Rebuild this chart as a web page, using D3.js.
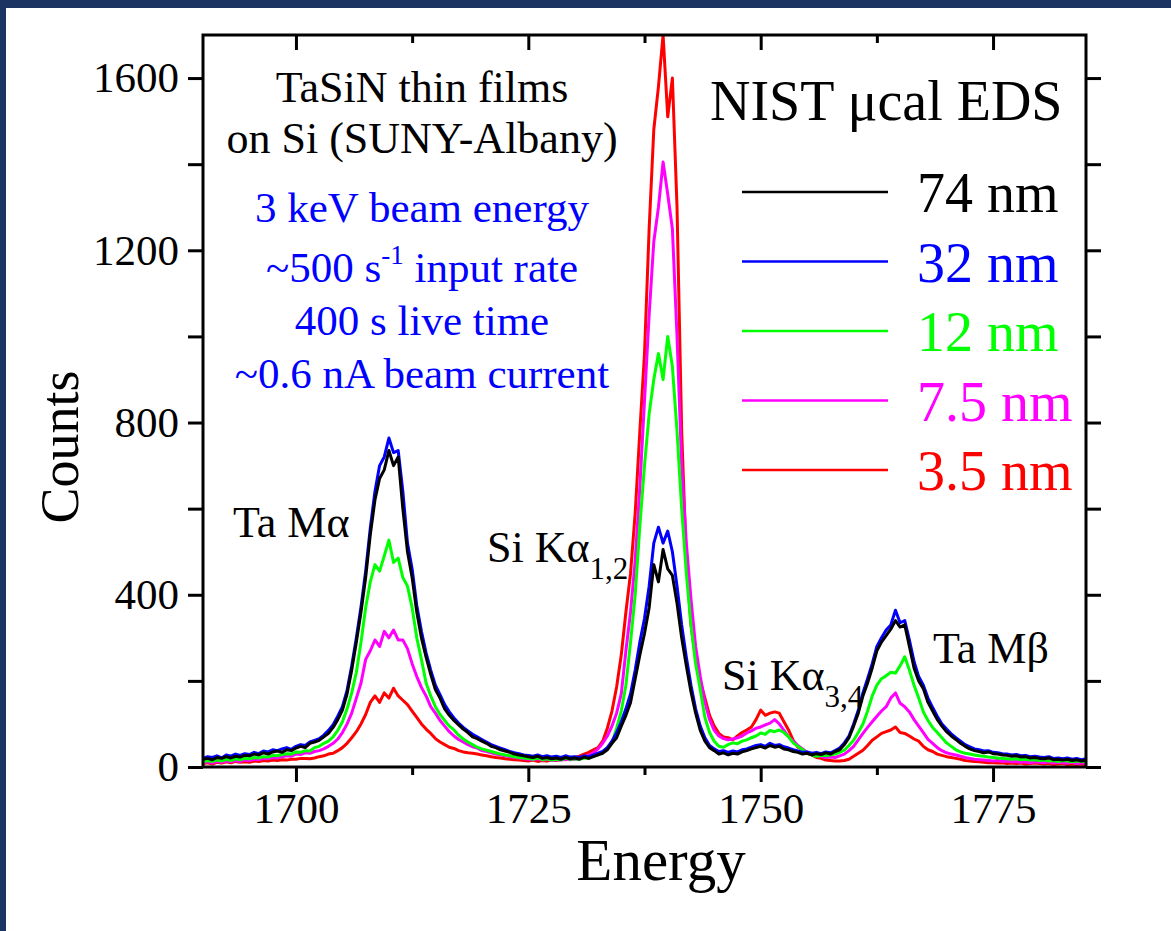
<!DOCTYPE html>
<html>
<head>
<meta charset="utf-8">
<script src="https://cdn.jsdelivr.net/npm/d3@7"></script>
<style>
  html, body { margin: 0; padding: 0; background: #fff; }
  svg { display: block; }
</style>
</head>
<body>
<script>
// channel energies, 0.5 step from 1690 to 1785
var energy = d3.range(1690, 1785.25, 0.5);

// counts per channel (rows of 10 = 5 energy units)
var nm74 = [
  18,20,17,22,20,24,21,25,23,27,
  26,30,28,33,30,35,37,34,40,38,
  44,48,45,55,58,62,70,78,92,110,
  132,170,225,290,360,440,540,620,670,690,
  735,700,720,600,500,440,360,300,255,215,
  180,160,135,120,108,98,88,80,70,66,
  60,55,48,45,40,37,34,30,28,26,
  24,22,25,20,22,19,21,18,22,19,
  21,18,23,20,24,28,32,40,55,68,
  95,120,150,205,260,310,370,470,430,505,
  460,445,380,300,235,175,125,85,60,45,
  38,30,33,28,32,30,35,38,42,45,
  48,44,50,46,48,42,40,36,34,30,
  32,28,31,29,33,30,36,40,52,68,
  95,125,165,195,230,270,290,305,320,340,
  325,330,280,230,200,182,150,130,110,95,
  82,72,64,55,48,42,38,36,33,35,
  31,30,28,27,25,26,23,24,21,22,
  20,19,21,17,18,16,18,15,17,14,
  16];

var nm32 = [
  20,24,22,26,21,28,25,30,27,31,
  29,34,31,37,35,40,38,42,45,41,
  48,52,50,58,62,66,74,85,98,118,
  140,178,235,300,372,455,555,640,700,720,
  764,730,735,640,520,460,375,315,265,225,
  190,168,145,128,114,102,92,84,76,70,
  64,58,52,48,44,40,36,33,31,28,
  27,25,28,24,26,23,25,22,26,23,
  24,22,26,24,28,32,36,45,60,80,
  105,135,170,225,290,345,420,520,557,520,
  548,500,420,330,255,190,135,95,68,50,
  42,36,38,34,37,35,40,42,46,50,
  52,48,55,50,52,47,44,40,37,34,
  35,32,34,31,35,33,38,44,56,72,
  100,132,172,205,240,280,300,318,330,364,
  335,340,295,245,210,190,160,138,118,100,
  88,77,68,60,52,47,42,40,37,38,
  34,33,31,30,28,29,26,27,24,25,
  23,22,24,20,21,19,21,18,20,17,
  19];

var nm12 = [
  12,15,13,16,14,18,15,19,17,20,
  19,22,21,24,23,27,26,29,31,30,
  35,34,38,37,45,48,55,60,70,85,
  105,135,172,220,290,370,430,470,455,490,
  527,475,485,440,420,370,300,250,195,165,
  140,122,108,95,86,74,65,58,52,46,
  42,39,36,33,30,28,26,24,22,21,
  20,18,21,17,19,16,18,17,20,18,
  19,18,21,20,25,28,34,45,56,90,
  130,190,290,400,560,700,820,900,960,900,
  1000,930,780,600,450,330,240,180,115,80,
  60,48,46,52,56,54,60,63,68,72,
  79,76,85,82,86,80,70,56,48,40,
  32,28,25,27,26,28,30,34,39,50,
  62,80,100,130,165,190,205,212,220,218,
  235,256,225,190,160,128,108,92,80,68,
  56,48,40,35,32,30,28,26,25,23,
  22,21,20,19,18,19,17,18,16,17,
  15,16,14,15,13,15,14,12,14,13,
  13];

var nm7_5 = [
  10,12,9,13,11,14,12,15,13,16,
  15,18,17,20,19,22,21,24,26,25,
  30,29,33,32,36,38,42,48,55,65,
  80,100,125,160,195,250,270,295,280,315,
  300,318,295,295,275,240,210,185,165,140,
  125,108,95,82,72,64,58,52,47,44,
  38,36,33,30,28,26,24,22,21,19,
  18,17,19,16,18,15,17,16,18,17,
  18,20,23,27,33,42,55,72,95,125,
  170,270,360,480,650,850,1050,1220,1300,1405,
  1330,1250,1000,700,520,390,280,210,150,110,
  85,72,66,63,65,68,72,79,84,90,
  93,98,102,110,100,85,70,60,50,42,
  34,30,26,25,22,23,22,26,30,38,
  48,63,78,92,105,118,130,140,160,172,
  148,140,128,110,95,80,64,55,45,38,
  33,30,28,25,22,20,18,17,16,15,
  14,15,13,14,12,13,11,12,10,12,
  11,10,12,9,11,10,9,11,8,10,
  9];

var nm3_5 = [
  8,10,7,11,9,12,10,13,11,12,
  11,14,13,15,14,16,15,17,16,18,
  18,20,20,19,21,24,26,30,32,38,
  45,55,68,82,100,122,150,165,150,172,
  160,183,165,155,145,130,115,100,88,78,
  66,58,52,46,43,38,35,33,32,30,
  28,26,24,22,21,19,18,17,16,15,
  14,16,13,15,14,16,15,18,17,20,
  22,25,30,34,40,45,60,90,130,186,
  260,360,450,590,780,960,1250,1480,1580,1700,
  1510,1600,1300,780,480,330,250,200,160,120,
  95,78,70,68,63,72,80,86,93,110,
  132,120,125,128,125,105,86,62,46,40,
  32,28,22,20,16,15,14,14,15,18,
  25,32,39,50,62,70,78,82,86,93,
  80,78,72,65,60,48,40,36,30,27,
  24,22,20,18,15,14,13,12,11,10,
  10,9,10,8,9,8,9,7,8,9,
  8,7,8,6,7,8,6,7,6,7,
  6];

var xMajor = [1700, 1725, 1750, 1775];
var xMinor = [1712.5, 1737.5, 1762.5];
var yMajor = [0, 400, 800, 1200, 1600];
var yMinor = [200, 600, 1000, 1400];

var legendNames = ["74 nm", "32 nm", "12 nm", "7.5 nm", "3.5 nm"];
var legendColors = ["#000000", "#0000ff", "#00ff00", "#ff00ff", "#ff0000"];
var legendValues = [nm74, nm32, nm12, nm7_5, nm3_5];

var W = 1171, H = 931;
var pLeft = 203, pRight = 1086, pTop = 35, pBottom = 767;
var font = "'Liberation Serif', 'Times New Roman', serif";

var svg = d3.select("body").append("svg")
  .attr("width", W)
  .attr("height", H);

// navy border
svg.append("rect").attr("x", 0).attr("y", 0).attr("width", W).attr("height", H).attr("fill", "#1c3461");
svg.append("rect").attr("x", 6).attr("y", 8).attr("width", W - 6).attr("height", H - 8).attr("fill", "#ffffff");

var x = d3.scaleLinear().domain([1690, 1785]).range([pLeft, pRight]);
var y = d3.scaleLinear().domain([0, 1700]).range([pBottom, pTop]);

svg.append("clipPath").attr("id", "plotclip")
  .append("rect")
  .attr("x", pLeft).attr("y", pTop - 1)
  .attr("width", pRight - pLeft).attr("height", pBottom - pTop + 1);

var line = d3.line()
  .x(function(d, i) { return x(energy[i]); })
  .y(function(d) { return y(d); });

// draw thinnest film first so the 74 nm trace ends on top
var drawOrder = [4, 3, 2, 1, 0];
var lines = svg.append("g").attr("clip-path", "url(#plotclip)");
drawOrder.forEach(function(k) {
  lines.append("path")
    .datum(legendValues[k])
    .attr("d", line)
    .attr("fill", "none")
    .attr("stroke", legendColors[k])
    .attr("stroke-width", 3)
    .attr("stroke-linejoin", "round");
});

// axes
function styleAxis(g) {
  g.select(".domain").remove();
  g.selectAll(".tick line").attr("stroke", "#000").attr("stroke-width", 3);
  g.selectAll(".tick text")
    .attr("font-family", font)
    .attr("font-size", "43px")
    .attr("fill", "#000");
}

svg.append("g")
  .attr("transform", "translate(0," + pBottom + ")")
  .call(d3.axisBottom(x).tickValues(xMajor).tickSize(15).tickPadding(10).tickFormat(d3.format("d")))
  .call(styleAxis);
svg.append("g")
  .attr("transform", "translate(0," + pBottom + ")")
  .call(d3.axisBottom(x).tickValues(xMinor).tickSize(8).tickFormat(""))
  .call(styleAxis);
svg.append("g")
  .attr("transform", "translate(0," + pTop + ")")
  .call(d3.axisBottom(x).tickValues(xMajor).tickSize(15).tickFormat(""))
  .call(styleAxis);
svg.append("g")
  .attr("transform", "translate(0," + pTop + ")")
  .call(d3.axisBottom(x).tickValues(xMinor).tickSize(8).tickFormat(""))
  .call(styleAxis);

svg.append("g")
  .attr("transform", "translate(" + pLeft + ",0)")
  .call(d3.axisLeft(y).tickValues(yMajor).tickSize(15).tickPadding(9).tickFormat(d3.format("d")))
  .call(styleAxis);
svg.append("g")
  .attr("transform", "translate(" + pLeft + ",0)")
  .call(d3.axisLeft(y).tickValues(yMinor).tickSize(15).tickFormat(""))
  .call(styleAxis);
svg.append("g")
  .attr("transform", "translate(" + pRight + ",0)")
  .call(d3.axisRight(y).tickValues(yMajor.concat(yMinor)).tickSize(15).tickFormat(""))
  .call(styleAxis);

// frame
svg.append("rect")
  .attr("x", pLeft).attr("y", pTop)
  .attr("width", pRight - pLeft).attr("height", pBottom - pTop)
  .attr("fill", "none").attr("stroke", "#000").attr("stroke-width", 3);

// axis titles
svg.append("text")
  .attr("transform", "translate(78,447) rotate(-90)")
  .attr("text-anchor", "middle")
  .attr("font-family", font).attr("font-size", "54px")
  .text("Counts");
svg.append("text")
  .attr("x", 661).attr("y", 880)
  .attr("text-anchor", "middle")
  .attr("font-family", font).attr("font-size", "59px")
  .text("Energy");

// title and legend
svg.append("text")
  .attr("x", 710).attr("y", 120)
  .attr("font-family", font).attr("font-size", "56px")
  .text("NIST \u03bccal EDS");

legendNames.forEach(function(name, i) {
  var ly = 192 + i * 69.5;
  svg.append("line")
    .attr("x1", 742).attr("x2", 888)
    .attr("y1", ly).attr("y2", ly)
    .attr("stroke", legendColors[i]).attr("stroke-width", 2.5);
  svg.append("text")
    .attr("x", 917).attr("y", ly + 20)
    .attr("font-family", font).attr("font-size", "56px")
    .attr("fill", legendColors[i])
    .text(name);
});

// annotation block
var note = [
  {t: "TaSiN thin films", y: 102, c: "#000", s: 44},
  {t: "on Si (SUNY-Albany)", y: 153, c: "#000", s: 44},
  {t: "3 keV beam energy", y: 222, c: "#0000ff", s: 43},
  {t: "400 s live time", y: 335, c: "#0000ff", s: 43},
  {t: "~0.6 nA beam current", y: 388, c: "#0000ff", s: 43}
];
note.forEach(function(n) {
  svg.append("text")
    .attr("x", 422).attr("y", n.y)
    .attr("text-anchor", "middle")
    .attr("font-family", font).attr("font-size", n.s + "px")
    .attr("fill", n.c)
    .text(n.t);
});
var rate = svg.append("text")
  .attr("x", 422).attr("y", 282)
  .attr("text-anchor", "middle")
  .attr("font-family", font).attr("font-size", "43px")
  .attr("fill", "#0000ff");
rate.append("tspan").text("~500 s");
rate.append("tspan").attr("font-size", "27px").attr("dy", -18).text("-1");
rate.append("tspan").attr("dy", 18).text(" input rate");

// peak labels
function peakLabel(px, py, main, sub) {
  var t = svg.append("text")
    .attr("x", px).attr("y", py)
    .attr("font-family", font).attr("font-size", "44px")
    .attr("fill", "#000");
  t.append("tspan").text(main);
  if (sub) t.append("tspan").attr("font-size", "31px").attr("dy", 17).text(sub);
}
peakLabel(233, 537, "Ta M\u03b1");
peakLabel(487, 562, "Si K\u03b1", "1,2");
peakLabel(722, 690, "Si K\u03b1", "3,4");
peakLabel(933, 663, "Ta M\u03b2");
</script>
</body>
</html>
